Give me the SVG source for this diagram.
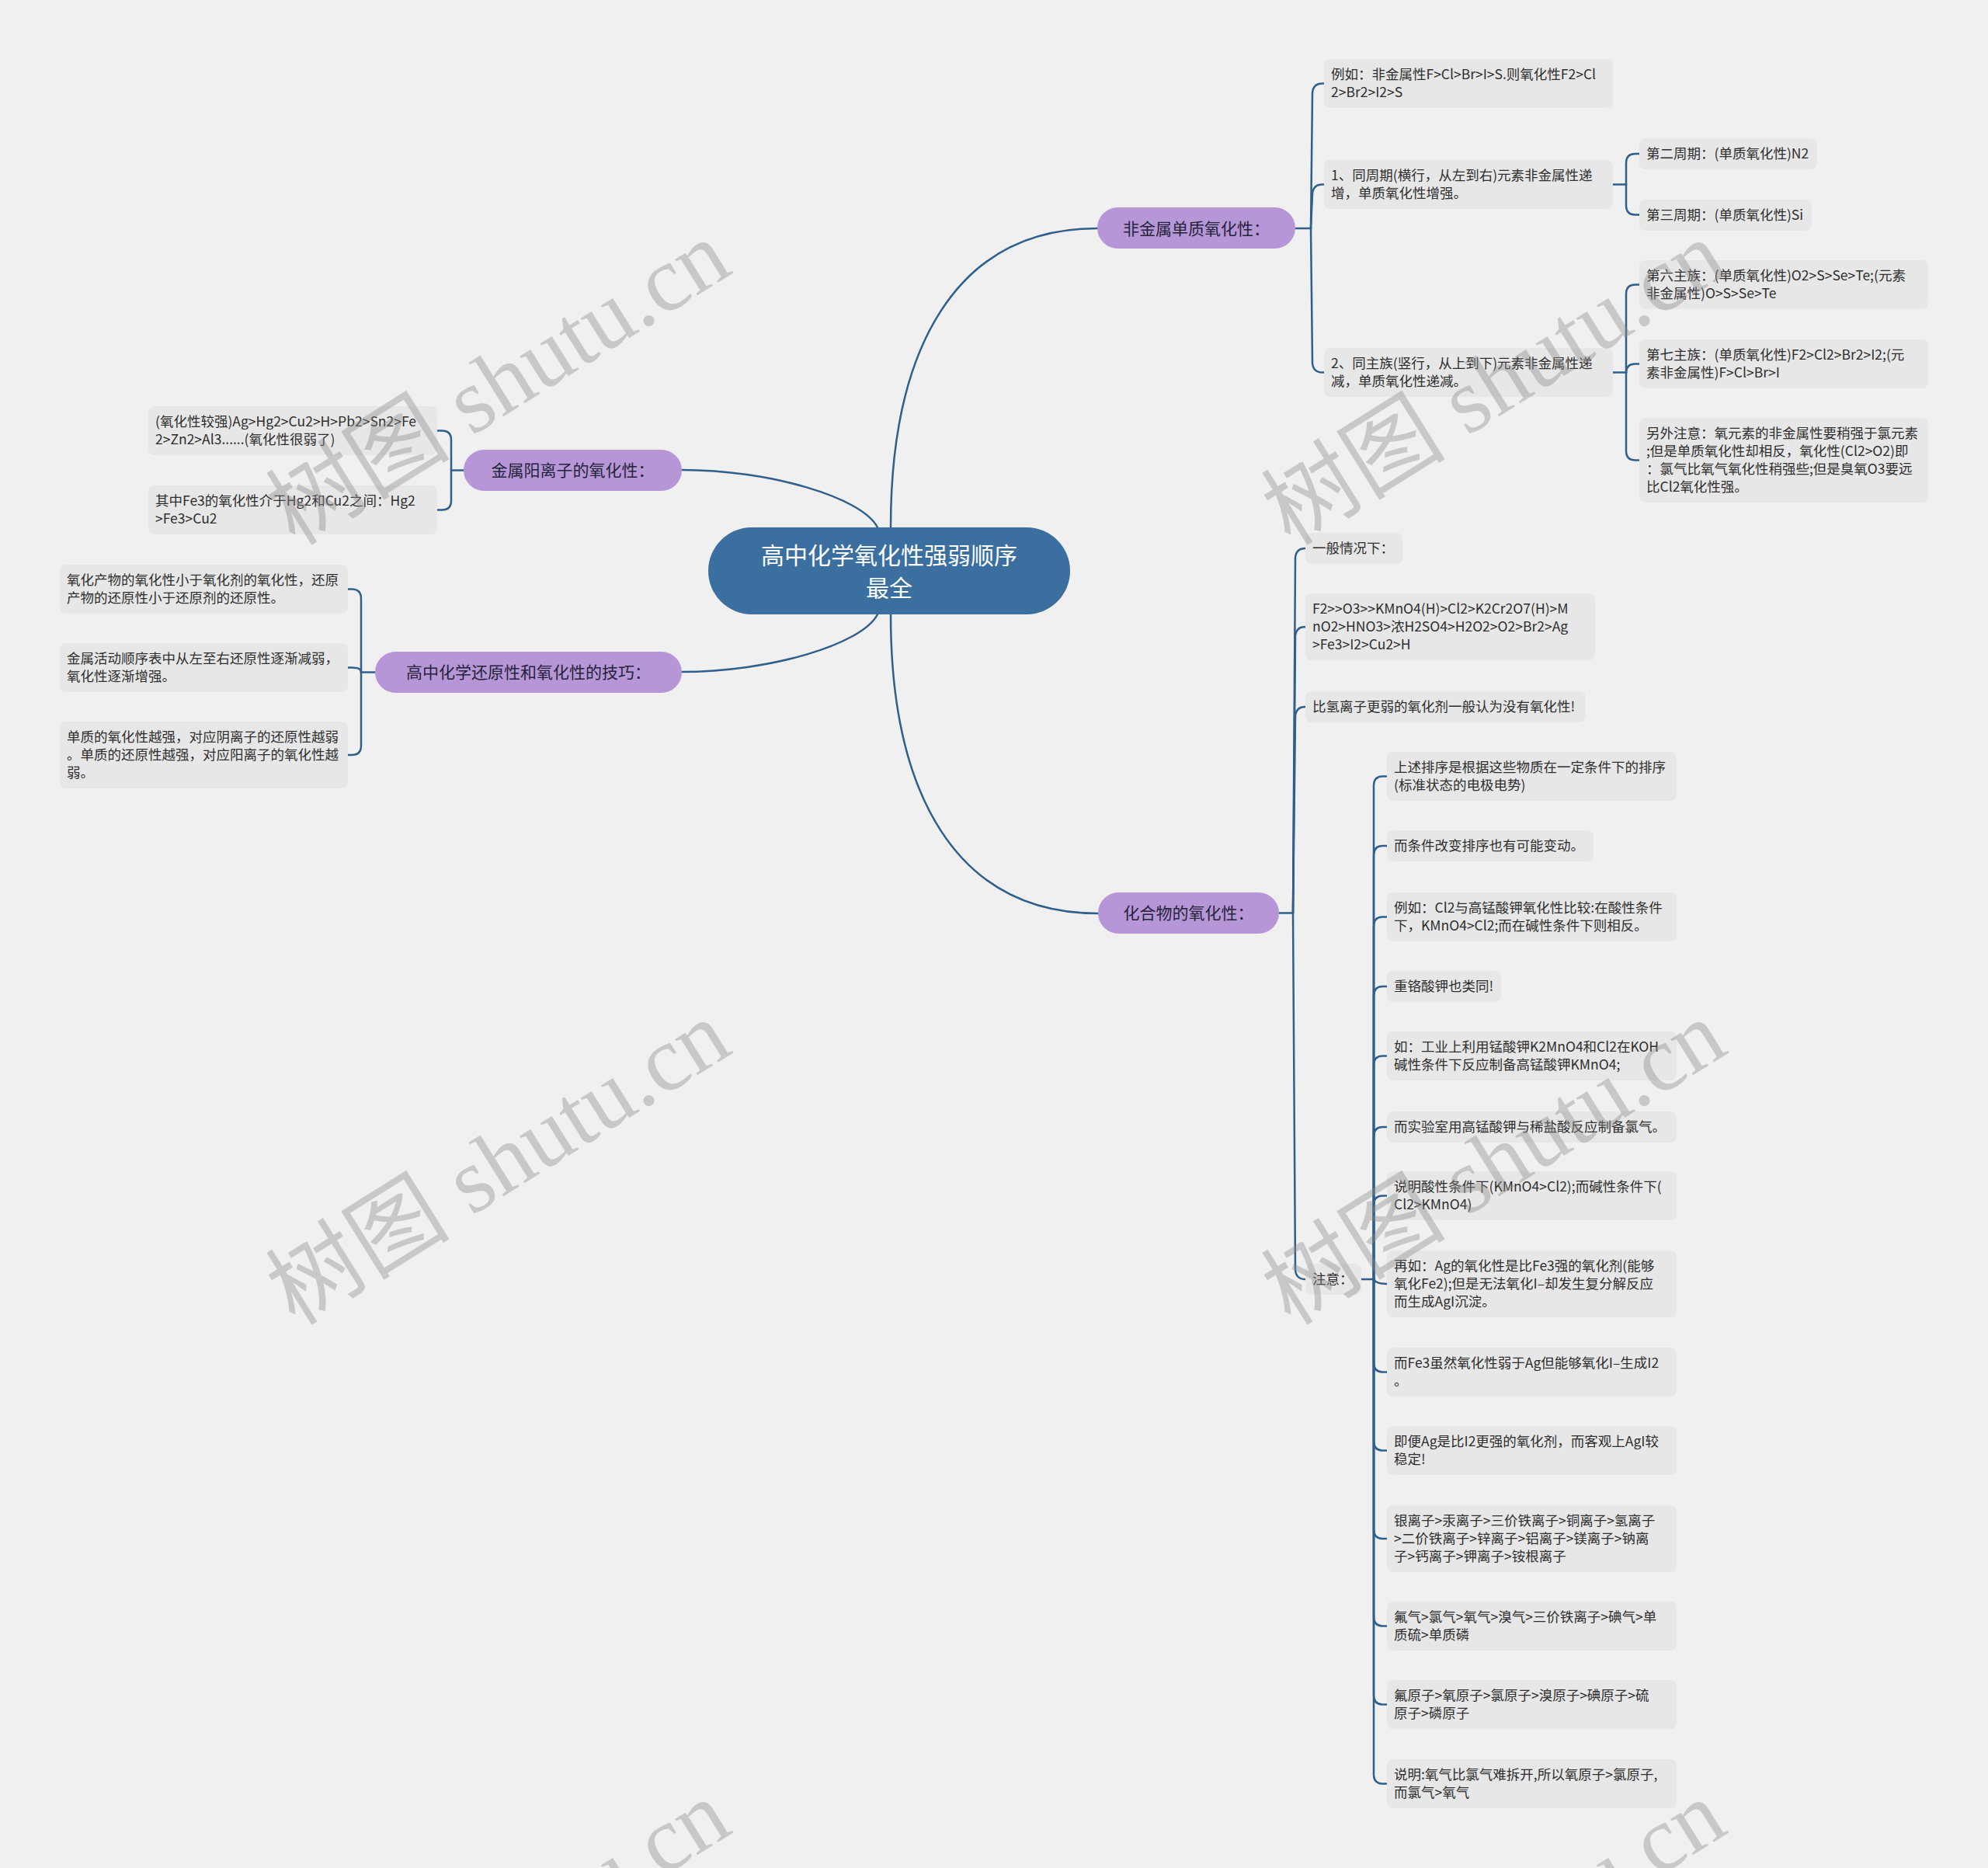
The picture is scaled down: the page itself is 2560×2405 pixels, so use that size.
<svg xmlns="http://www.w3.org/2000/svg" width="2560" height="2405" viewBox="0 0 2560 2405">
<style>
.bg{fill:#f0f0f0}
.leaf{fill:#e7e7e7}
.lt{font-family:"Noto Sans CJK SC","Liberation Sans",sans-serif;font-size:17.5px;fill:#2e2e2e}
.br{fill:#b796d8}
.bt{font-family:"Noto Sans CJK SC","Liberation Sans",sans-serif;font-size:21px;fill:#24243a;text-anchor:middle}
.root{fill:#3b6fa0}
.rt{font-family:"Noto Sans CJK SC","Liberation Sans",sans-serif;font-size:30px;fill:#ffffff;text-anchor:middle}
.cn{fill:none;stroke:#2f5f8a;stroke-width:2.5;stroke-linecap:round}
.wm{font-family:"Liberation Serif","Noto Sans CJK SC",serif;font-size:119px;fill:#8c8c8c;fill-opacity:0.4}
</style>
<rect class="bg" x="0" y="0" width="2560" height="2405"/>

<g id="connectors">
<path class="cn" d="M1147,679 C1147,450 1230,294 1413,294"/>
<path class="cn" d="M1147,791 C1147,1020 1230,1176 1414,1176"/>
<path class="cn" d="M1130,679 C1110,640 990,605 878,605"/>
<path class="cn" d="M1130,791 C1110,830 990,865 878,865"/>
<path class="cn" d="M1668,294 H1688"/>
<path class="cn" d="M1688,294 L1690,119.5 Q1691,107.5 1703,107.5 L1705,107.5"/>
<path class="cn" d="M1688,294 L1690,249.5 Q1691,237.5 1703,237.5 L1705,237.5"/>
<path class="cn" d="M1688,294 L1690,467.5 Q1691,479.5 1703,479.5 L1705,479.5"/>
<path class="cn" d="M2077,237.5 H2094"/>
<path class="cn" d="M2094,237.5 L2094,210 Q2094,198 2106,198 L2111,198"/>
<path class="cn" d="M2094,237.5 L2094,264.5 Q2094,276.5 2106,276.5 L2111,276.5"/>
<path class="cn" d="M2077,479.5 H2094"/>
<path class="cn" d="M2094,479.5 L2094,378.5 Q2094,366.5 2106,366.5 L2111,366.5"/>
<path class="cn" d="M2094,479.5 L2094,480.5 Q2094,468.5 2106,468.5 L2111,468.5"/>
<path class="cn" d="M2094,479.5 L2094,580.5 Q2094,592.5 2106,592.5 L2111,592.5"/>
<path class="cn" d="M1646,1175.5 H1665"/>
<path class="cn" d="M1665,1175.5 L1668,718 Q1669,706 1681,706"/>
<path class="cn" d="M1665,1175.5 L1668,819 Q1669,807 1681,807"/>
<path class="cn" d="M1665,1175.5 L1668,922 Q1669,910 1681,910"/>
<path class="cn" d="M1665,1175.5 L1668,1635 Q1669,1647 1681,1647"/>
<path class="cn" d="M1753,1647 H1769"/>
<path class="cn" d="M1769,1647 L1769,1011.5 Q1769,999.5 1781,999.5 L1786,999.5"/>
<path class="cn" d="M1769,1647 L1769,1101 Q1769,1089 1781,1089 L1786,1089"/>
<path class="cn" d="M1769,1647 L1769,1192.5 Q1769,1180.5 1781,1180.5 L1786,1180.5"/>
<path class="cn" d="M1769,1647 L1769,1282 Q1769,1270 1781,1270 L1786,1270"/>
<path class="cn" d="M1769,1647 L1769,1371.5 Q1769,1359.5 1781,1359.5 L1786,1359.5"/>
<path class="cn" d="M1769,1647 L1769,1463 Q1769,1451 1781,1451 L1786,1451"/>
<path class="cn" d="M1769,1647 L1769,1551.5 Q1769,1539.5 1781,1539.5 L1786,1539.5"/>
<path class="cn" d="M1769,1647 Q1772,1653 1786,1653"/>
<path class="cn" d="M1769,1647 L1769,1754.5 Q1769,1766.5 1781,1766.5 L1786,1766.5"/>
<path class="cn" d="M1769,1647 L1769,1855.5 Q1769,1867.5 1781,1867.5 L1786,1867.5"/>
<path class="cn" d="M1769,1647 L1769,1969 Q1769,1981 1781,1981 L1786,1981"/>
<path class="cn" d="M1769,1647 L1769,2081.5 Q1769,2093.5 1781,2093.5 L1786,2093.5"/>
<path class="cn" d="M1769,1647 L1769,2182.5 Q1769,2194.5 1781,2194.5 L1786,2194.5"/>
<path class="cn" d="M1769,1647 L1769,2284.5 Q1769,2296.5 1781,2296.5 L1786,2296.5"/>
<path class="cn" d="M597,605.5 H581"/>
<path class="cn" d="M581,605.5 L581,566.5 Q581,554.5 569,554.5 L563,554.5"/>
<path class="cn" d="M581,605.5 L581,644.5 Q581,656.5 569,656.5 L563,656.5"/>
<path class="cn" d="M483,865.5 H465"/>
<path class="cn" d="M465,865.5 L465,770.5 Q465,758.5 453,758.5 L448,758.5"/>
<path class="cn" d="M465,865.5 L465,865 Q465,859.5 453,859.5 L448,859.5"/>
<path class="cn" d="M465,865.5 L465,960 Q465,972 453,972 L448,972"/>
</g>

<g id="root">
<rect class="root" x="912" y="679" width="466" height="112" rx="56"/>
<text class="rt" x="1145"><tspan x="1145" y="726">高中化学氧化性强弱顺序</tspan><tspan x="1145" y="768">最全</tspan></text>
</g>

<g id="b-feijinshu">
<rect class="br" x="1413" y="267" width="255" height="53" rx="26.5"/>
<text class="bt" x="1540.5" y="301.5">非金属单质氧化性：</text>
</g>
<g id="b-huahewu">
<rect class="br" x="1414" y="1149" width="233" height="53" rx="26.5"/>
<text class="bt" x="1530.5" y="1183">化合物的氧化性：</text>
</g>
<g id="b-jinshu">
<rect class="br" x="597" y="579" width="281" height="53" rx="26.5"/>
<text class="bt" x="737.5" y="613">金属阳离子的氧化性：</text>
</g>
<g id="b-jiqiao">
<rect class="br" x="483" y="839" width="395" height="53" rx="26.5"/>
<text class="bt" x="680.5" y="873">高中化学还原性和氧化性的技巧：</text>
</g>

<g id="a1"><rect class="leaf" x="1705" y="76" width="372" height="63" rx="8"/>
<text class="lt"><tspan x="1714" y="102">例如：非金属性F&gt;Cl&gt;Br&gt;I&gt;S.则氧化性F2&gt;Cl</tspan><tspan x="1714" y="125">2&gt;Br2&gt;I2&gt;S</tspan></text></g>
<g id="a2"><rect class="leaf" x="1705" y="206" width="372" height="63" rx="8"/>
<text class="lt"><tspan x="1714" y="232">1、同周期(横行，从左到右)元素非金属性递</tspan><tspan x="1714" y="255">增，单质氧化性增强。</tspan></text></g>
<g id="a3"><rect class="leaf" x="1705" y="448" width="372" height="63" rx="8"/>
<text class="lt"><tspan x="1714" y="474">2、同主族(竖行，从上到下)元素非金属性递</tspan><tspan x="1714" y="497">减，单质氧化性递减。</tspan></text></g>
<g id="a2a"><rect class="leaf" x="2111" y="178" width="229" height="40" rx="8"/>
<text class="lt" x="2120" y="204">第二周期：(单质氧化性)N2</text></g>
<g id="a2b"><rect class="leaf" x="2111" y="257" width="222" height="40" rx="8"/>
<text class="lt" x="2120" y="283">第三周期：(单质氧化性)Si</text></g>
<g id="a3a"><rect class="leaf" x="2111" y="335" width="372" height="63" rx="8"/>
<text class="lt"><tspan x="2120" y="361">第六主族：(单质氧化性)O2&gt;S&gt;Se&gt;Te;(元素</tspan><tspan x="2120" y="384">非金属性)O&gt;S&gt;Se&gt;Te</tspan></text></g>
<g id="a3b"><rect class="leaf" x="2111" y="437" width="372" height="63" rx="8"/>
<text class="lt"><tspan x="2120" y="463">第七主族：(单质氧化性)F2&gt;Cl2&gt;Br2&gt;I2;(元</tspan><tspan x="2120" y="486">素非金属性)F&gt;Cl&gt;Br&gt;I</tspan></text></g>
<g id="a3c"><rect class="leaf" x="2111" y="538" width="372" height="109" rx="8"/>
<text class="lt"><tspan x="2120" y="564">另外注意：氧元素的非金属性要稍强于氯元素</tspan><tspan x="2120" y="587">;但是单质氧化性却相反，氧化性(Cl2&gt;O2)即</tspan><tspan x="2120" y="610">：氯气比氧气氧化性稍强些;但是臭氧O3要远</tspan><tspan x="2120" y="633">比Cl2氧化性强。</tspan></text></g>

<g id="b1"><rect class="leaf" x="1681" y="686" width="125" height="40" rx="8"/>
<text class="lt" x="1690" y="712">一般情况下：</text></g>
<g id="b2"><rect class="leaf" x="1681" y="764" width="373" height="86" rx="8"/>
<text class="lt"><tspan x="1690" y="790">F2&gt;&gt;O3&gt;&gt;KMnO4(H)&gt;Cl2&gt;K2Cr2O7(H)&gt;M</tspan><tspan x="1690" y="813">nO2&gt;HNO3&gt;浓H2SO4&gt;H2O2&gt;O2&gt;Br2&gt;Ag</tspan><tspan x="1690" y="836">&gt;Fe3&gt;I2&gt;Cu2&gt;H</tspan></text></g>
<g id="b3"><rect class="leaf" x="1681" y="890" width="361" height="40" rx="8"/>
<text class="lt" x="1690" y="916">比氢离子更弱的氧化剂一般认为没有氧化性!</text></g>
<g id="b4"><rect class="leaf" x="1681" y="1627" width="72" height="40" rx="8"/>
<text class="lt" x="1690" y="1653">注意：</text></g>

<g id="c1"><rect class="leaf" x="1786" y="968" width="373" height="63" rx="8"/>
<text class="lt"><tspan x="1795" y="994">上述排序是根据这些物质在一定条件下的排序</tspan><tspan x="1795" y="1017">(标准状态的电极电势)</tspan></text></g>
<g id="c2"><rect class="leaf" x="1786" y="1069" width="266" height="40" rx="8"/>
<text class="lt" x="1795" y="1095">而条件改变排序也有可能变动。</text></g>
<g id="c3"><rect class="leaf" x="1786" y="1149" width="373" height="63" rx="8"/>
<text class="lt"><tspan x="1795" y="1175">例如：Cl2与高锰酸钾氧化性比较:在酸性条件</tspan><tspan x="1795" y="1198">下，KMnO4&gt;Cl2;而在碱性条件下则相反。</tspan></text></g>
<g id="c4"><rect class="leaf" x="1786" y="1250" width="147" height="40" rx="8"/>
<text class="lt" x="1795" y="1276">重铬酸钾也类同!</text></g>
<g id="c5"><rect class="leaf" x="1786" y="1328" width="373" height="63" rx="8"/>
<text class="lt"><tspan x="1795" y="1354">如：工业上利用锰酸钾K2MnO4和Cl2在KOH</tspan><tspan x="1795" y="1377">碱性条件下反应制备高锰酸钾KMnO4;</tspan></text></g>
<g id="c6"><rect class="leaf" x="1786" y="1431" width="373" height="40" rx="8"/>
<text class="lt" x="1795" y="1457">而实验室用高锰酸钾与稀盐酸反应制备氯气。</text></g>
<g id="c7"><rect class="leaf" x="1786" y="1508" width="373" height="63" rx="8"/>
<text class="lt"><tspan x="1795" y="1534">说明酸性条件下(KMnO4&gt;Cl2);而碱性条件下(</tspan><tspan x="1795" y="1557">Cl2&gt;KMnO4)</tspan></text></g>
<g id="c8"><rect class="leaf" x="1786" y="1610" width="373" height="86" rx="8"/>
<text class="lt"><tspan x="1795" y="1636">再如：Ag的氧化性是比Fe3强的氧化剂(能够</tspan><tspan x="1795" y="1659">氧化Fe2);但是无法氧化I–却发生复分解反应</tspan><tspan x="1795" y="1682">而生成AgI沉淀。</tspan></text></g>
<g id="c9"><rect class="leaf" x="1786" y="1735" width="373" height="63" rx="8"/>
<text class="lt"><tspan x="1795" y="1761">而Fe3虽然氧化性弱于Ag但能够氧化I–生成I2</tspan><tspan x="1795" y="1784">。</tspan></text></g>
<g id="c10"><rect class="leaf" x="1786" y="1836" width="373" height="63" rx="8"/>
<text class="lt"><tspan x="1795" y="1862">即便Ag是比I2更强的氧化剂，而客观上AgI较</tspan><tspan x="1795" y="1885">稳定!</tspan></text></g>
<g id="c11"><rect class="leaf" x="1786" y="1938" width="373" height="86" rx="8"/>
<text class="lt"><tspan x="1795" y="1964">银离子&gt;汞离子&gt;三价铁离子&gt;铜离子&gt;氢离子</tspan><tspan x="1795" y="1987">&gt;二价铁离子&gt;锌离子&gt;铝离子&gt;镁离子&gt;钠离</tspan><tspan x="1795" y="2010">子&gt;钙离子&gt;钾离子&gt;铵根离子</tspan></text></g>
<g id="c12"><rect class="leaf" x="1786" y="2062" width="373" height="63" rx="8"/>
<text class="lt"><tspan x="1795" y="2088">氟气&gt;氯气&gt;氧气&gt;溴气&gt;三价铁离子&gt;碘气&gt;单</tspan><tspan x="1795" y="2111">质硫&gt;单质磷</tspan></text></g>
<g id="c13"><rect class="leaf" x="1786" y="2163" width="373" height="63" rx="8"/>
<text class="lt"><tspan x="1795" y="2189">氟原子&gt;氧原子&gt;氯原子&gt;溴原子&gt;碘原子&gt;硫</tspan><tspan x="1795" y="2212">原子&gt;磷原子</tspan></text></g>
<g id="c14"><rect class="leaf" x="1786" y="2265" width="373" height="63" rx="8"/>
<text class="lt"><tspan x="1795" y="2291">说明:氧气比氯气难拆开,所以氧原子&gt;氯原子,</tspan><tspan x="1795" y="2314">而氯气&gt;氧气</tspan></text></g>

<g id="d1"><rect class="leaf" x="191" y="523" width="372" height="63" rx="8"/>
<text class="lt"><tspan x="200" y="549">(氧化性较强)Ag&gt;Hg2&gt;Cu2&gt;H&gt;Pb2&gt;Sn2&gt;Fe</tspan><tspan x="200" y="572">2&gt;Zn2&gt;Al3......(氧化性很弱了)</tspan></text></g>
<g id="d2"><rect class="leaf" x="191" y="625" width="372" height="63" rx="8"/>
<text class="lt"><tspan x="200" y="651">其中Fe3的氧化性介于Hg2和Cu2之间：Hg2</tspan><tspan x="200" y="674">&gt;Fe3&gt;Cu2</tspan></text></g>

<g id="e1"><rect class="leaf" x="77" y="727" width="371" height="63" rx="8"/>
<text class="lt"><tspan x="86" y="753">氧化产物的氧化性小于氧化剂的氧化性，还原</tspan><tspan x="86" y="776">产物的还原性小于还原剂的还原性。</tspan></text></g>
<g id="e2"><rect class="leaf" x="77" y="828" width="371" height="63" rx="8"/>
<text class="lt"><tspan x="86" y="854">金属活动顺序表中从左至右还原性逐渐减弱，</tspan><tspan x="86" y="877">氧化性逐渐增强。</tspan></text></g>
<g id="e3"><rect class="leaf" x="77" y="929" width="371" height="86" rx="8"/>
<text class="lt"><tspan x="86" y="955">单质的氧化性越强，对应阴离子的还原性越弱</tspan><tspan x="86" y="978">。单质的还原性越强，对应阳离子的氧化性越</tspan><tspan x="86" y="1001">弱。</tspan></text></g>

<g id="watermark">
<text class="wm" x="380" y="704" transform="rotate(-32 380 704)">树图 shutu.cn</text>
<text class="wm" x="1662" y="704" transform="rotate(-32 1662 704)">树图 shutu.cn</text>
<text class="wm" x="380" y="1708" transform="rotate(-32 380 1708)">树图 shutu.cn</text>
<text class="wm" x="1662" y="1708" transform="rotate(-32 1662 1708)">树图 shutu.cn</text>
<text class="wm" x="380" y="2712" transform="rotate(-32 380 2712)">树图 shutu.cn</text>
<text class="wm" x="1662" y="2712" transform="rotate(-32 1662 2712)">树图 shutu.cn</text>
</g>
</svg>
